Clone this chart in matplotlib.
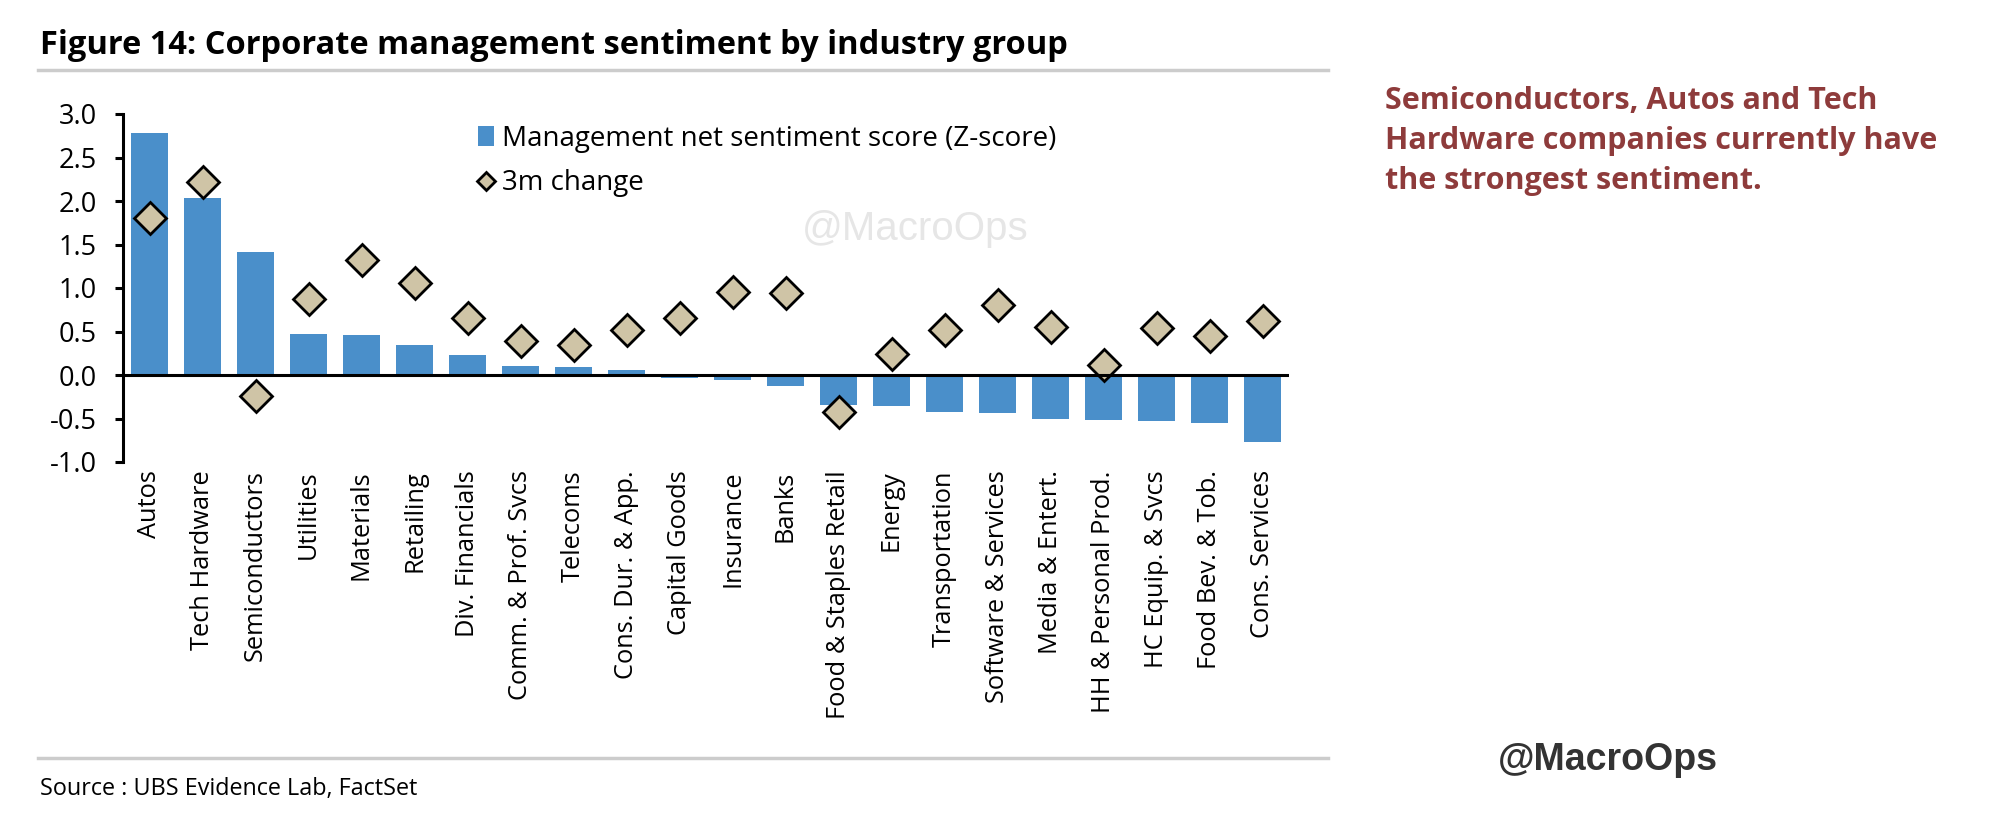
import matplotlib.pyplot as plt
from matplotlib.lines import Line2D
import numpy as np

categories = ['Autos', 'Tech Hardware', 'Semiconductors', 'Utilities', 'Materials',
              'Retailing', 'Div. Financials', 'Comm. & Prof. Svcs', 'Telecoms',
              'Cons. Dur. & App.', 'Capital Goods', 'Insurance', 'Banks',
              'Food & Staples Retail', 'Energy', 'Transportation', 'Software & Services',
              'Media & Entert.', 'HH & Personal Prod.', 'HC Equip. & Svcs',
              'Food Bev. & Tob.', 'Cons. Services']
sentiment = [2.78, 2.03, 1.41, 0.47, 0.46, 0.34, 0.23, 0.10, 0.09, 0.06, -0.04,
             -0.06, -0.13, -0.34, -0.36, -0.42, -0.44, -0.50, -0.52, -0.53, -0.55, -0.77]
change_3m = [1.80, 2.22, -0.24, 0.87, 1.32, 1.06, 0.65, 0.39, 0.35, 0.52, 0.66,
             0.95, 0.94, -0.42, 0.24, 0.52, 0.80, 0.55, 0.12, 0.54, 0.45, 0.62]
yticks = [-1.0, -0.5, 0.0, 0.5, 1.0, 1.5, 2.0, 2.5, 3.0]

plt.rcParams['font.family'] = ['Open Sans', 'DejaVu Sans']

W, H = 1992, 817
fig = plt.figure(figsize=(W / 100, H / 100), dpi=100)
# axes box in pixels: left 123, right 1289, top 114, bottom 464
ax = fig.add_axes([123 / W, 1 - 462 / H, (1289 - 123) / W, (462 - 114) / H])

x = np.arange(len(categories))
ax.bar(x, sentiment, width=0.7, color='#4A8FCA', zorder=2,
       label='Management net sentiment score (Z-score)')
ax.plot(x, change_3m, linestyle='none', marker='D', markersize=16,
        markerfacecolor='#CFC4A6', markeredgecolor='black', markeredgewidth=2,
        zorder=3, label='3m change')
ax.axhline(0, color='black', linewidth=2.2, zorder=4)

ax.set_xlim(-0.5, len(categories) - 0.5)
ax.set_ylim(-1.0, 3.0)
ax.set_yticks(yticks)
ax.set_yticklabels([f'{v:.1f}' for v in yticks], fontsize=19.5)
ax.set_xticks(x)
ax.set_xticklabels(categories, rotation=90, fontsize=18.3)
ax.tick_params(axis='x', length=0, pad=6)
ax.tick_params(axis='y', direction='out', length=6, width=2.2, pad=13)
for s in ['top', 'right', 'bottom']:
    ax.spines[s].set_visible(False)
ax.spines['left'].set_linewidth(2.2)

handles, labels = ax.get_legend_handles_labels()
ax.legend(handles[::-1], labels[::-1], loc='upper left', bbox_to_anchor=(0.288, 1.025),
          frameon=False, fontsize=20, handlelength=0.55, handletextpad=0.3,
          labelspacing=0.6, markerscale=0.6, borderaxespad=0.3)

# watermark
ax.text(915 / W, 1 - 229 / H, '@MacroOps', transform=fig.transFigure, fontsize=29,
        family='Liberation Sans', color='#e6e6e6', ha='center', va='center', zorder=1)

# frame lines and texts
fig.add_artist(Line2D([38 / W, 1328 / W], [1 - 70 / H, 1 - 70 / H], color='#cccccc', linewidth=2.5))
fig.add_artist(Line2D([38 / W, 1328 / W], [1 - 758 / H, 1 - 758 / H], color='#cccccc', linewidth=2.5))

fig.text(40 / W, 1 - 46 / H, 'Figure 14: Corporate management sentiment by industry group',
         fontsize=23.5, fontweight='bold', va='center', ha='left')
fig.text(40 / W, 1 - 789 / H, 'Source : UBS Evidence Lab, FactSet', fontsize=16.8,
         va='center', ha='left')
fig.text(1385 / W, 1 - 86 / H,
         'Semiconductors, Autos and Tech\nHardware companies currently have\nthe strongest sentiment.',
         fontsize=22, fontweight='bold', color='#8E3B3B', va='top', ha='left', linespacing=1.43)
fig.text(1608 / W, 1 - 760 / H, '@MacroOps', fontsize=27, fontweight='bold',
         family='Liberation Sans', color='#333333', va='center', ha='center')

plt.savefig('out.png', dpi=100, facecolor='white')
